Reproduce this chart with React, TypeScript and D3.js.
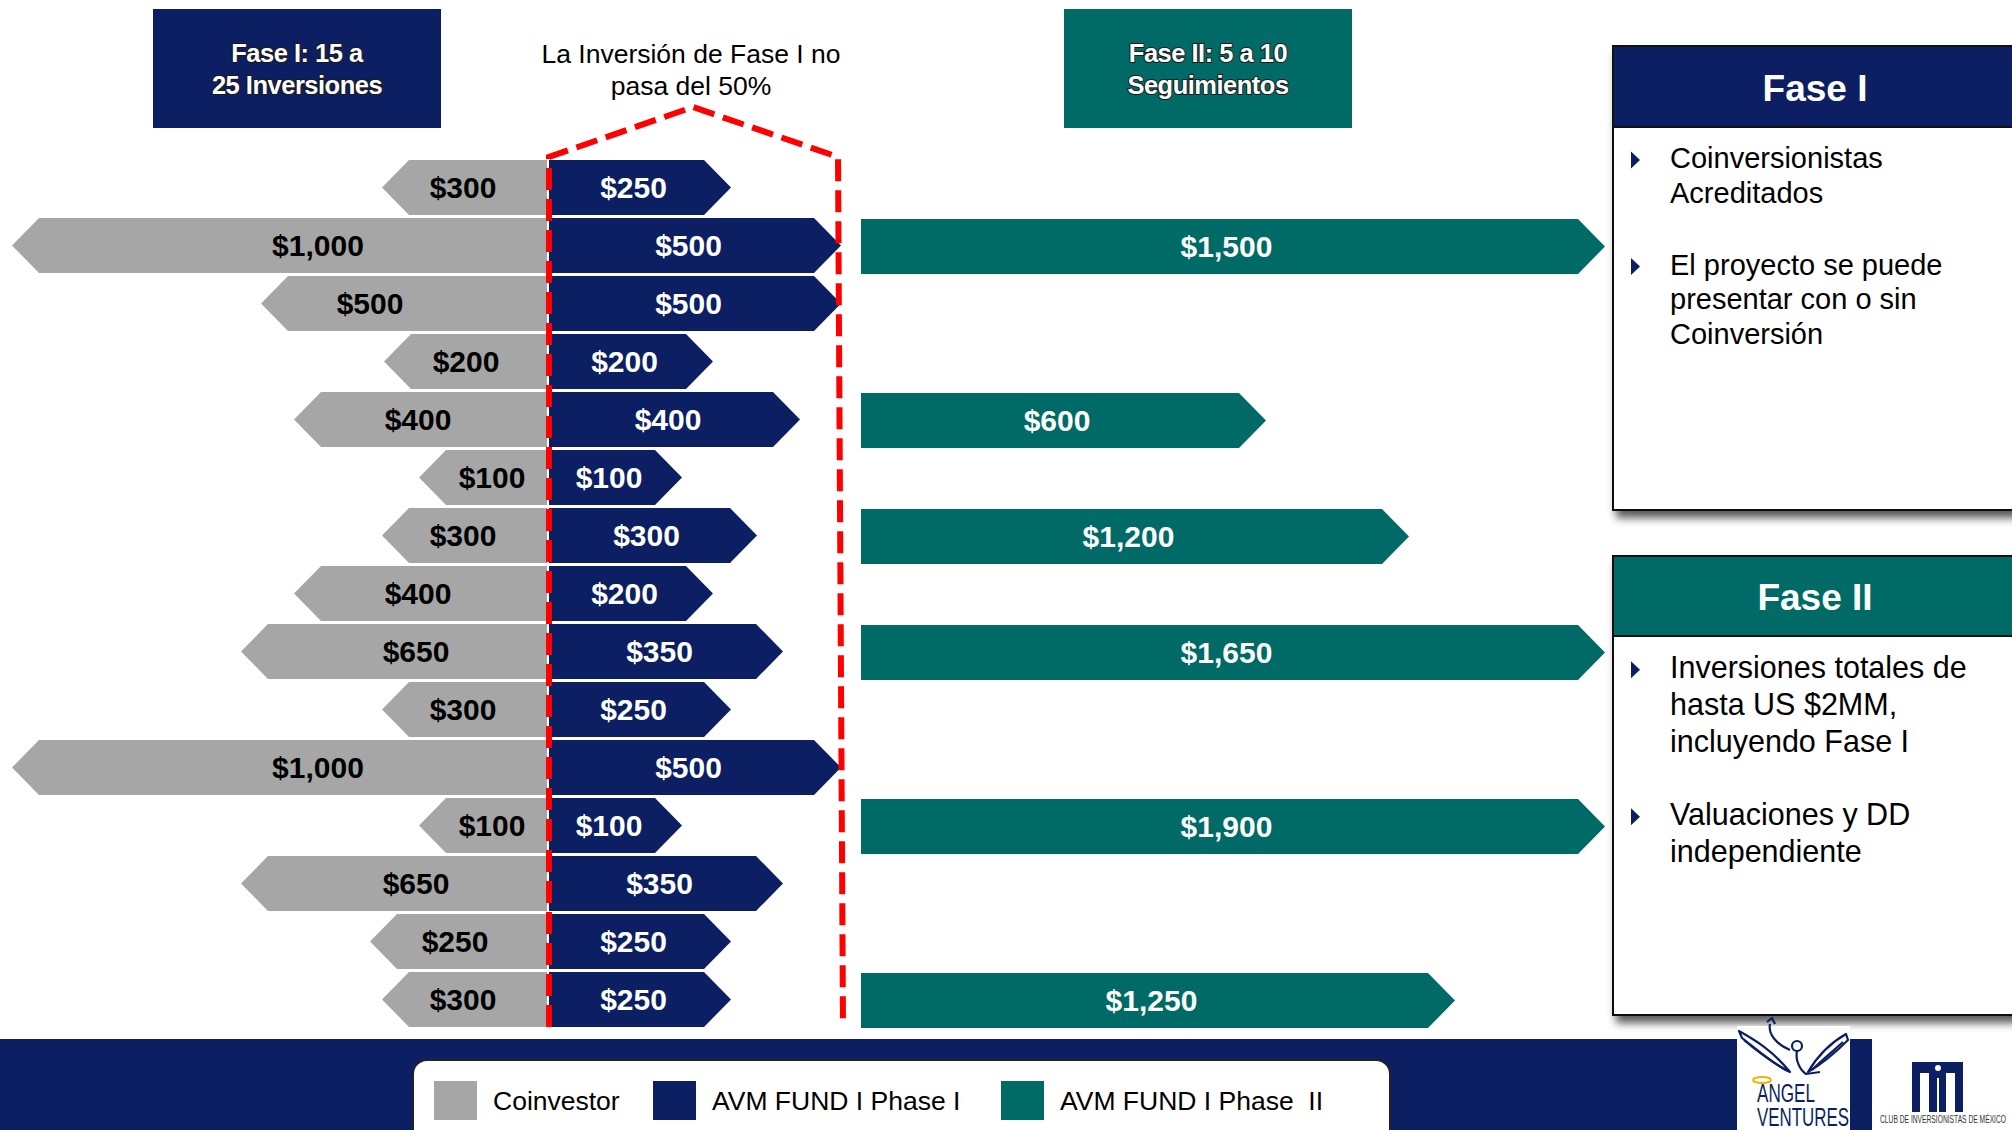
import React from "react";
import * as d3 from "d3";

const rowIds = d3.range(15);
const coinvestor = [300, 1000, 500, 200, 400, 100, 300, 400, 650, 300, 1000, 100, 650, 250, 300];
const phase1 = [250, 500, 500, 200, 400, 100, 300, 200, 350, 250, 500, 100, 350, 250, 250];
const phase2: (number | null)[] = [null, 1500, null, null, 600, null, 1200, null, 1650, null, null, 1900, null, null, 1250];

const legendLabels = ["Coinvestor", "AVM FUND I Phase I", "AVM FUND I Phase  II"];
const headerLeft = ["Fase I: 15 a", "25 Inversiones"];
const headerMid = ["La Inversión de Fase I no", "pasa del 50%"];
const headerRight = ["Fase II: 5 a 10", "Seguimientos"];
const fase1Items = [["Coinversionistas", "Acreditados"], ["El proyecto se puede", "presentar con o sin", "Coinversión"]];
const fase2Items = [["Inversiones totales de", "hasta US $2MM,", "incluyendo Fase I"], ["Valuaciones y DD", "independiente"]];

const GREY = "#A6A6A6";
const NAVY = "#0C1F62";
const TEAL = "#006A66";
const RED = "#FF0000";
const FONT = "'Liberation Sans', Arial, Helvetica, sans-serif";

const W = 2012;
const H = 1130;
const CENTER_L = 547;
const CENTER_R = 549;
const TEAL_X = 861;
const TIP = 27;

const y = d3.scaleBand<number>().domain(rowIds).range([158.5, 1028.5]).paddingInner(3 / 58).paddingOuter(1.5 / 58);
// diagram-style (non-proportional) length scales
const greyLen = d3.scaleLinear().domain([100, 200, 250, 300, 400, 500, 650, 1000]).range([128, 163, 177, 165, 253, 286, 306, 535]);
const greyLabel = d3.scaleLinear().domain([100, 200, 250, 300, 400, 500, 650, 1000]).range([55, 81, 92, 84, 129, 177, 131, 229]);
const navyLen = d3.scaleLinear().domain([100, 200, 250, 300, 350, 400, 500]).range([133, 164, 182, 208, 234, 251, 292]);
const tealLen = d3.scaleLinear().domain([600, 1200, 1250, 1500]).range([405, 548, 594, 744]).clamp(true);
const fmt = d3.format("$,");

function leftArrow(x0: number, w: number, top: number, h: number) {
  const p = d3.path();
  p.moveTo(x0 - w, top + h / 2);
  p.lineTo(x0 - w + TIP, top);
  p.lineTo(x0, top);
  p.lineTo(x0, top + h);
  p.lineTo(x0 - w + TIP, top + h);
  p.closePath();
  return p.toString();
}
function rightArrow(x0: number, w: number, top: number, h: number) {
  const p = d3.path();
  p.moveTo(x0, top);
  p.lineTo(x0 + w - TIP, top);
  p.lineTo(x0 + w, top + h / 2);
  p.lineTo(x0 + w - TIP, top + h);
  p.lineTo(x0, top + h);
  p.closePath();
  return p.toString();
}

function Panel({ top, headBottom, bottom, fill, title, titleY, items, fontSize, lineH, itemGap, firstBase }: any) {
  let base = firstBase;
  const out: any[] = [];
  items.forEach((lines: string[], i: number) => {
    if (i > 0) base += itemGap;
    const bTop = base - fontSize * 0.29 - 8;
    out.push(
      <path key={"b" + i} d={`M1631,${bTop} L1640,${bTop + 8.5} L1631,${bTop + 17} Z`} fill={NAVY} />
    );
    lines.forEach((ln, j) => {
      out.push(
        <text key={`t${i}-${j}`} x={1670} y={base} fontSize={fontSize} fill="#000" fontFamily={FONT}>
          {ln}
        </text>
      );
      if (j < lines.length - 1) base += lineH;
    });
  });
  return (
    <g>
      <rect x={1613} y={top} width={420} height={bottom - top} fill="#fff" stroke="#111" strokeWidth={2} filter="url(#shadow)" />
      <rect x={1613} y={top} width={420} height={headBottom - top} fill={fill} stroke="#111" strokeWidth={2} />
      <text x={1815} y={titleY} dy="0.36em" textAnchor="middle" fontSize={37} fontWeight="bold" fill="#fff" fontFamily={FONT}>
        {title}
      </text>
      {out}
    </g>
  );
}

export default function App() {
  const bh = y.bandwidth();
  return (
    <svg width={W} height={H} viewBox={`0 0 ${W} ${H}`} style={{ position: "absolute", left: 0, top: 0, background: "#fff" }} fontFamily={FONT}>
      <defs>
        <filter id="shadow" x="-10%" y="-10%" width="130%" height="130%">
          <feDropShadow dx="4" dy="7" stdDeviation="4" floodColor="#000" floodOpacity="0.65" />
        </filter>
      </defs>
      <rect x={0} y={0} width={W} height={H} fill="#fff" />

      {/* header boxes */}
      <rect x={153} y={9} width={288} height={119} fill={NAVY} />
      {headerLeft.map((t, i) => (
        <text key={t} x={297} y={53 + i * 32} dy="0.36em" textAnchor="middle" fontSize={25.5} fontWeight="bold" fill="#fff" stroke="#1a1a1a" strokeWidth={2} paintOrder="stroke" style={{ letterSpacing: "-0.5px" }}>
          {t}
        </text>
      ))}
      {headerMid.map((t, i) => (
        <text key={t} x={691} y={53 + i * 32} dy="0.36em" textAnchor="middle" fontSize={26.5} fill="#000">
          {t}
        </text>
      ))}
      <rect x={1064} y={9} width={288} height={119} fill={TEAL} />
      {headerRight.map((t, i) => (
        <text key={t} x={1208} y={53 + i * 32} dy="0.36em" textAnchor="middle" fontSize={25.5} fontWeight="bold" fill="#fff" stroke="#1a1a1a" strokeWidth={2} paintOrder="stroke" style={{ letterSpacing: "-0.5px" }}>
          {t}
        </text>
      ))}

      {/* bars */}
      {rowIds.map((i) => {
        const top = y(i)!;
        const gw = greyLen(coinvestor[i]);
        const nw = navyLen(phase1[i]);
        const v2 = phase2[i];
        const tw = v2 != null ? tealLen(v2) : 0;
        const cy = top + bh / 2;
        return (
          <g key={i}>
            <path d={leftArrow(CENTER_L, gw, top, bh)} fill={GREY} />
            <text x={CENTER_L - greyLabel(coinvestor[i])} y={cy} dy="0.36em" textAnchor="middle" fontSize={30} fontWeight="bold" fill="#000">
              {fmt(coinvestor[i])}
            </text>
            <path d={rightArrow(CENTER_R, nw, top, bh)} fill={NAVY} />
            <text x={CENTER_R + (nw - 13) / 2} y={cy} dy="0.36em" textAnchor="middle" fontSize={30} fontWeight="bold" fill="#fff">
              {fmt(phase1[i])}
            </text>
            {v2 != null && (
              <g>
                <path d={rightArrow(TEAL_X, tw, top + 1, bh)} fill={TEAL} />
                <text x={TEAL_X + (tw - 13) / 2} y={cy + 1} dy="0.36em" textAnchor="middle" fontSize={30} fontWeight="bold" fill="#fff">
                  {fmt(v2)}
                </text>
              </g>
            )}
          </g>
        );
      })}

      {/* 50% limit */}
      <path d="M549,1027 L549,157 L693,107 L838,157 L843,1027" fill="none" stroke={RED} strokeWidth={6} strokeDasharray="22 9" />

      {/* right panels */}
      <Panel top={46} headBottom={127} bottom={510} fill={NAVY} title="Fase I" titleY={88} items={fase1Items} fontSize={29} lineH={34.5} itemGap={72} firstBase={168} />
      <Panel top={556} headBottom={636} bottom={1015} fill={TEAL} title="Fase II" titleY={597} items={fase2Items} fontSize={30.5} lineH={37} itemGap={73} firstBase={678} />

      {/* bottom band */}
      <rect x={0} y={1039} width={W} height={H - 1039} fill={NAVY} />
      <rect x={413} y={1060} width={977} height={110} rx={14} fill="#fff" stroke="#222" strokeWidth={2} />
      {legendLabels.map((t, i) => {
        const sx = [434, 653, 1001][i];
        const c = [GREY, NAVY, TEAL][i];
        return (
          <g key={t}>
            <rect x={sx} y={1081} width={43} height={39} fill={c} />
            <text x={sx + 59} y={1100} dy="0.36em" fontSize={26.5} fill="#000" style={{ whiteSpace: "pre" }}>
              {t}
            </text>
          </g>
        );
      })}

      {/* logos */}
      <rect x={1737} y={1026} width={113} height={104} fill="#fff" />
      <g fill="none" stroke={NAVY} strokeWidth={2.2} strokeLinejoin="round">
        <path d="M1739,1031 C1755,1040 1772,1050 1790,1072 C1776,1066 1760,1052 1742,1038 Z" />
        <path d="M1744,1040 C1758,1052 1772,1062 1786,1070" />
        <path d="M1846,1034 C1832,1042 1818,1055 1808,1072 C1822,1064 1836,1052 1848,1040 Z" />
        <path d="M1843,1042 C1832,1052 1820,1062 1812,1070" />
        <circle cx={1797} cy={1046} r={5} />
        <path d="M1797,1051 C1795,1060 1800,1070 1806,1074 L1820,1072" />
        <path d="M1770,1024 C1768,1034 1776,1044 1790,1050" />
        <path d="M1767,1022 L1772,1018 L1775,1024" />
      </g>
      <ellipse cx={1762} cy={1080} rx={9} ry={3} fill="none" stroke="#E8B800" strokeWidth={1.8} />
      <text x={1757} y={1102} fontSize={25} fill={NAVY} textLength={58} lengthAdjust="spacingAndGlyphs">
        ANGEL
      </text>
      <text x={1757} y={1126} fontSize={25} fill={NAVY} textLength={92} lengthAdjust="spacingAndGlyphs">
        VENTURES
      </text>
      <rect x={1872} y={1039} width={W - 1872} height={H - 1039} fill="#fff" />
      <rect x={1912} y={1062} width={51} height={50} fill={NAVY} />
      <rect x={1920} y={1073} width={9} height={39} fill="#fff" />
      <rect x={1946} y={1073} width={9} height={39} fill="#fff" />
      <rect x={1937} y={1078} width={2} height={34} fill="#fff" />
      <circle cx={1938} cy={1068} r={3} fill="#fff" />
      <text x={1880} y={1123} fontSize={10} fill="#333" textLength={126} lengthAdjust="spacingAndGlyphs">
        CLUB DE INVERSIONISTAS DE MÉXICO
      </text>
    </svg>
  );
}
